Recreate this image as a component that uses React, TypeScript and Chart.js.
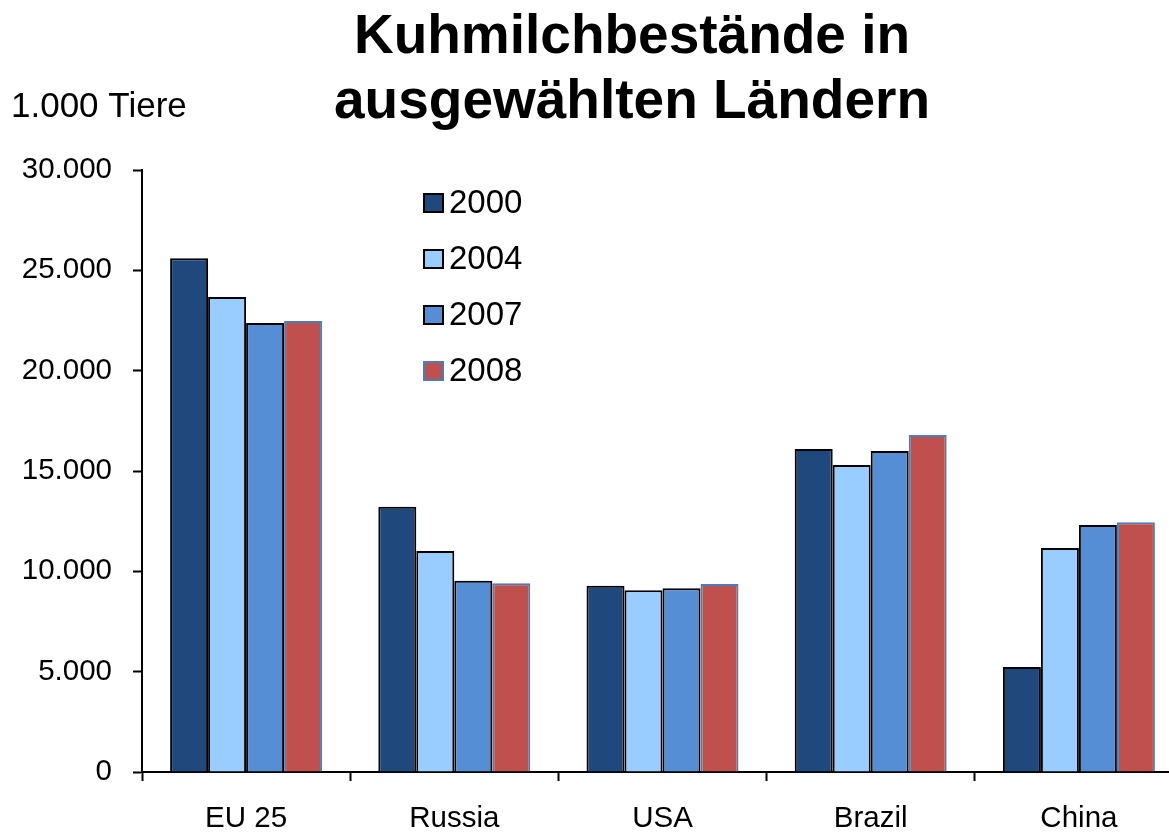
import React, { useEffect, useRef } from "react";
import { Chart, registerables } from "chart.js";

Chart.register(...registerables);

const categories = ["EU 25", "Russia", "USA", "Brazil", "China"];
const seriesLabels = ["2000", "2004", "2007", "2008"];
const values2000 = [25600, 13220, 9280, 16100, 5230];
const values2004 = [23670, 11010, 9060, 15300, 11160];
const values2007 = [22380, 9530, 9160, 16000, 12310];
const values2008 = [22470, 9410, 9370, 16790, 12450];
const fillColors = ["#1F497D", "#99CCFF", "#558ED5", "#C0504D"];
const borderColors = ["#000000", "#000000", "#000000", "#4A7EBB"];
const yTicks = [0, 5000, 10000, 15000, 20000, 25000, 30000];
const titleLines = ["Kuhmilchbestände in", "ausgewählten Ländern"];
const unitLabel = "1.000 Tiere";

const FONT = "'Liberation Sans', Arial, sans-serif";

const fmt = (v: number) => (v === 0 ? "0" : v.toLocaleString("de-DE"));

const overlayPlugin = {
  id: "overlay",
  afterDraw(chart: any) {
    const ctx = chart.ctx;
    ctx.save();
    // Title
    ctx.fillStyle = "#000";
    ctx.textAlign = "center";
    ctx.textBaseline = "alphabetic";
    ctx.font = `bold 55px ${FONT}`;
    const cx = 632;
    ctx.fillText(titleLines[0], cx, 53);
    ctx.fillText(titleLines[1], cx, 118);
    // Unit label
    ctx.textAlign = "left";
    ctx.font = `35px ${FONT}`;
    ctx.fillText(unitLabel, 11, 117);
    // Legend
    const lx = 424;
    const rowYs = [203, 259, 315, 371];
    chart.data.datasets.forEach((ds: any, i: number) => {
      const y = rowYs[i];
      ctx.fillStyle = ds.backgroundColor;
      ctx.fillRect(lx, y - 9, 19, 18);
      ctx.lineWidth = 2;
      ctx.strokeStyle = ds.borderColor;
      ctx.strokeRect(lx, y - 9, 19, 18);
      ctx.fillStyle = "#000";
      ctx.font = `33px ${FONT}`;
      ctx.textBaseline = "middle";
      ctx.fillText(ds.label, lx + 25, y + 1);
    });
    ctx.restore();
  },
};

export default function App() {
  const canvasRef = useRef<HTMLCanvasElement | null>(null);

  useEffect(() => {
    document.body.style.margin = "0";
    document.body.style.overflow = "hidden";
    const canvas = canvasRef.current;
    if (!canvas) return;
    const dataArrays = [values2000, values2004, values2007, values2008];
    const chart = new Chart(canvas, {
      type: "bar",
      data: {
        labels: categories,
        datasets: seriesLabels.map((label, i) => ({
          label,
          data: dataArrays[i],
          backgroundColor: fillColors[i],
          borderColor: borderColors[i],
          borderWidth: 2,
          barPercentage: 1,
          categoryPercentage: 0.73,
        })),
      },
      options: {
        responsive: false,
        animation: false,
        devicePixelRatioOverride: 1,
        layout: { padding: { top: 170, left: 0, right: 0, bottom: 0 } },
        plugins: {
          legend: { display: false },
          title: { display: false },
          tooltip: { enabled: false },
        },
        scales: {
          x: {
            afterFit: (s: any) => {
              s.height = 61;
            },
            grid: {
              offset: true,
              drawOnChartArea: false,
              drawTicks: true,
              tickLength: 9,
              tickWidth: 2,
              color: "#000",
            },
            border: { display: true, color: "#000", width: 2 },
            ticks: {
              color: "#000",
              font: { family: FONT, size: 29.5 },
              padding: 20,
              maxRotation: 0,
              autoSkip: false,
            },
          },
          y: {
            min: 0,
            max: 30000,
            afterFit: (s: any) => {
              s.width = 142;
            },
            afterBuildTicks: (s: any) => {
              s.ticks = yTicks.map((v) => ({ value: v }));
            },
            grid: {
              drawOnChartArea: false,
              drawTicks: true,
              tickLength: 9,
              tickWidth: 2,
              color: "#000",
            },
            border: { display: true, color: "#000", width: 2 },
            ticks: {
              color: "#000",
              font: { family: FONT, size: 29.5 },
              padding: 21,
              callback: (v: any) => fmt(Number(v)),
            },
          },
        },
      } as any,
      plugins: [overlayPlugin],
    });
    return () => chart.destroy();
  }, []);

  return (
    <div style={{ width: 1169, height: 833, background: "#fff", overflow: "hidden" }}>
      <canvas ref={canvasRef} width={1183} height={833} style={{ display: "block" }} />
    </div>
  );
}
